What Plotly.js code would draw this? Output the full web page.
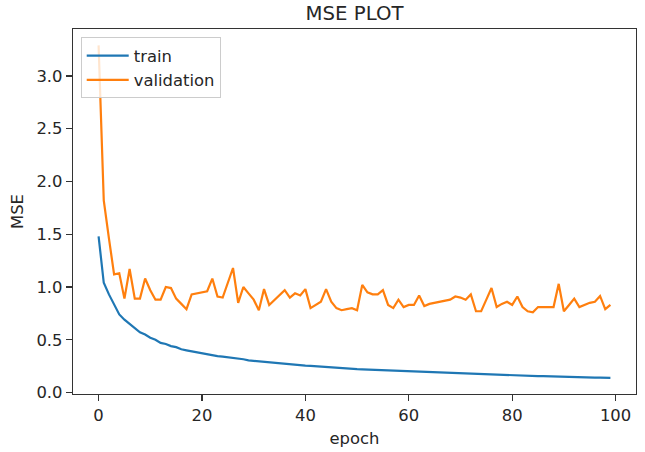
<!DOCTYPE html>
<html>
<head>
<meta charset="utf-8">
<script src="https://cdn.plot.ly/plotly-3.0.1.min.js"></script>
<style>html,body{margin:0;padding:0;background:#fff;}#chart{width:645px;height:452px;}</style>
</head>
<body>
<div id="chart"></div>
<script>
const epochs = Array.from({length: 100}, (_, i) => i);

const trainMSE = [
  1.48, 1.04, 0.93, 0.83, 0.74, 0.69, 0.65, 0.61, 0.57, 0.55,
  0.52, 0.50, 0.47, 0.46, 0.44, 0.43, 0.41, 0.40, 0.39, 0.38,
  0.375, 0.365, 0.355, 0.345, 0.34, 0.335, 0.33, 0.32, 0.315, 0.305,
  0.30, 0.295, 0.29, 0.285, 0.28, 0.278, 0.272, 0.266, 0.262, 0.258,
  0.255, 0.252, 0.248, 0.245, 0.242, 0.238, 0.235, 0.232, 0.227, 0.225,
  0.222, 0.22, 0.218, 0.215, 0.212, 0.21, 0.209, 0.207, 0.203, 0.202,
  0.20, 0.198, 0.195, 0.193, 0.19, 0.188, 0.186, 0.185, 0.183, 0.181,
  0.18, 0.178, 0.177, 0.175, 0.173, 0.172, 0.171, 0.17, 0.168, 0.167,
  0.165, 0.162, 0.16, 0.158, 0.156, 0.155, 0.155, 0.153, 0.152, 0.15,
  0.149, 0.148, 0.146, 0.145, 0.144, 0.143, 0.142, 0.141, 0.14, 0.139
];

const validationMSE = [
  3.29, 1.82, 1.46, 1.12, 1.13, 0.89, 1.17, 0.89, 0.89, 1.08,
  0.97, 0.88, 0.88, 1.00, 0.99, 0.89, 0.84, 0.79, 0.93, 0.94,
  0.95, 0.96, 1.08, 0.91, 0.90, 1.04, 1.18, 0.85, 1.00, 0.94,
  0.88, 0.78, 0.98, 0.83, 0.88, 0.93, 0.97, 0.90, 0.94, 0.92,
  0.98, 0.80, 0.83, 0.86, 0.98, 0.86, 0.80, 0.78, 0.79, 0.80,
  0.78, 1.02, 0.95, 0.93, 0.93, 0.97, 0.83, 0.80, 0.88, 0.81,
  0.83, 0.83, 0.92, 0.82, 0.84, 0.85, 0.86, 0.87, 0.88, 0.91,
  0.90, 0.88, 0.93, 0.77, 0.77, 0.88, 0.99, 0.81, 0.84, 0.86,
  0.83, 0.91, 0.81, 0.77, 0.76, 0.81, 0.81, 0.81, 0.81, 1.03,
  0.77, 0.83, 0.89, 0.81, 0.83, 0.85, 0.86, 0.915, 0.79, 0.83
];

const seriesNames = ['train', 'validation'];
const xTickVals = [0, 20, 40, 60, 80, 100];
const yTickVals = [0.0, 0.5, 1.0, 1.5, 2.0, 2.5, 3.0];

const font = 'DejaVu Sans, sans-serif';
const textColor = '#262626';

const traces = [
  {x: epochs, y: trainMSE, name: seriesNames[0], type: 'scatter', mode: 'lines',
   line: {color: '#1f77b4', width: 2.2}},
  {x: epochs, y: validationMSE, name: seriesNames[1], type: 'scatter', mode: 'lines',
   line: {color: '#ff7f0e', width: 2.2}}
];

const axisCommon = {
  showline: true, mirror: true, linecolor: '#333', linewidth: 1.2,
  ticks: 'outside', ticklen: 6, tickcolor: '#333', tickwidth: 1.2,
  showgrid: false, zeroline: false,
  tickfont: {family: font, size: 16.4, color: textColor}
};

const layout = {
  width: 645, height: 452,
  margin: {l: 73, r: 9, t: 29, b: 58},
  paper_bgcolor: '#fff', plot_bgcolor: '#fff',
  font: {family: font, color: textColor},
  title: {text: 'MSE PLOT', font: {family: font, size: 19.7, color: textColor},
          xref: 'paper', x: 0.5, xanchor: 'center', yref: 'container', y: 0.97, yanchor: 'middle'},
  xaxis: Object.assign({}, axisCommon, {
    range: [-4.95, 103.95], tickvals: xTickVals,
    title: {text: 'epoch', font: {family: font, size: 16.4, color: textColor}, standoff: 8}
  }),
  yaxis: Object.assign({}, axisCommon, {
    range: [-0.014, 3.445], tickvals: yTickVals, tickformat: '.1f',
    title: {text: 'MSE', font: {family: font, size: 16.4, color: textColor}, standoff: 8}
  }),
  showlegend: true,
  legend: {
    x: 0.0137, y: 0.977, xanchor: 'left', yanchor: 'top',
    bgcolor: 'rgba(255,255,255,0.8)', bordercolor: '#cccccc', borderwidth: 1,
    font: {family: font, size: 16.4, color: textColor},
    itemwidth: 42
  }
};

Plotly.newPlot('chart', traces, layout, {displayModeBar: false, staticPlot: true});
</script>
</body>
</html>
